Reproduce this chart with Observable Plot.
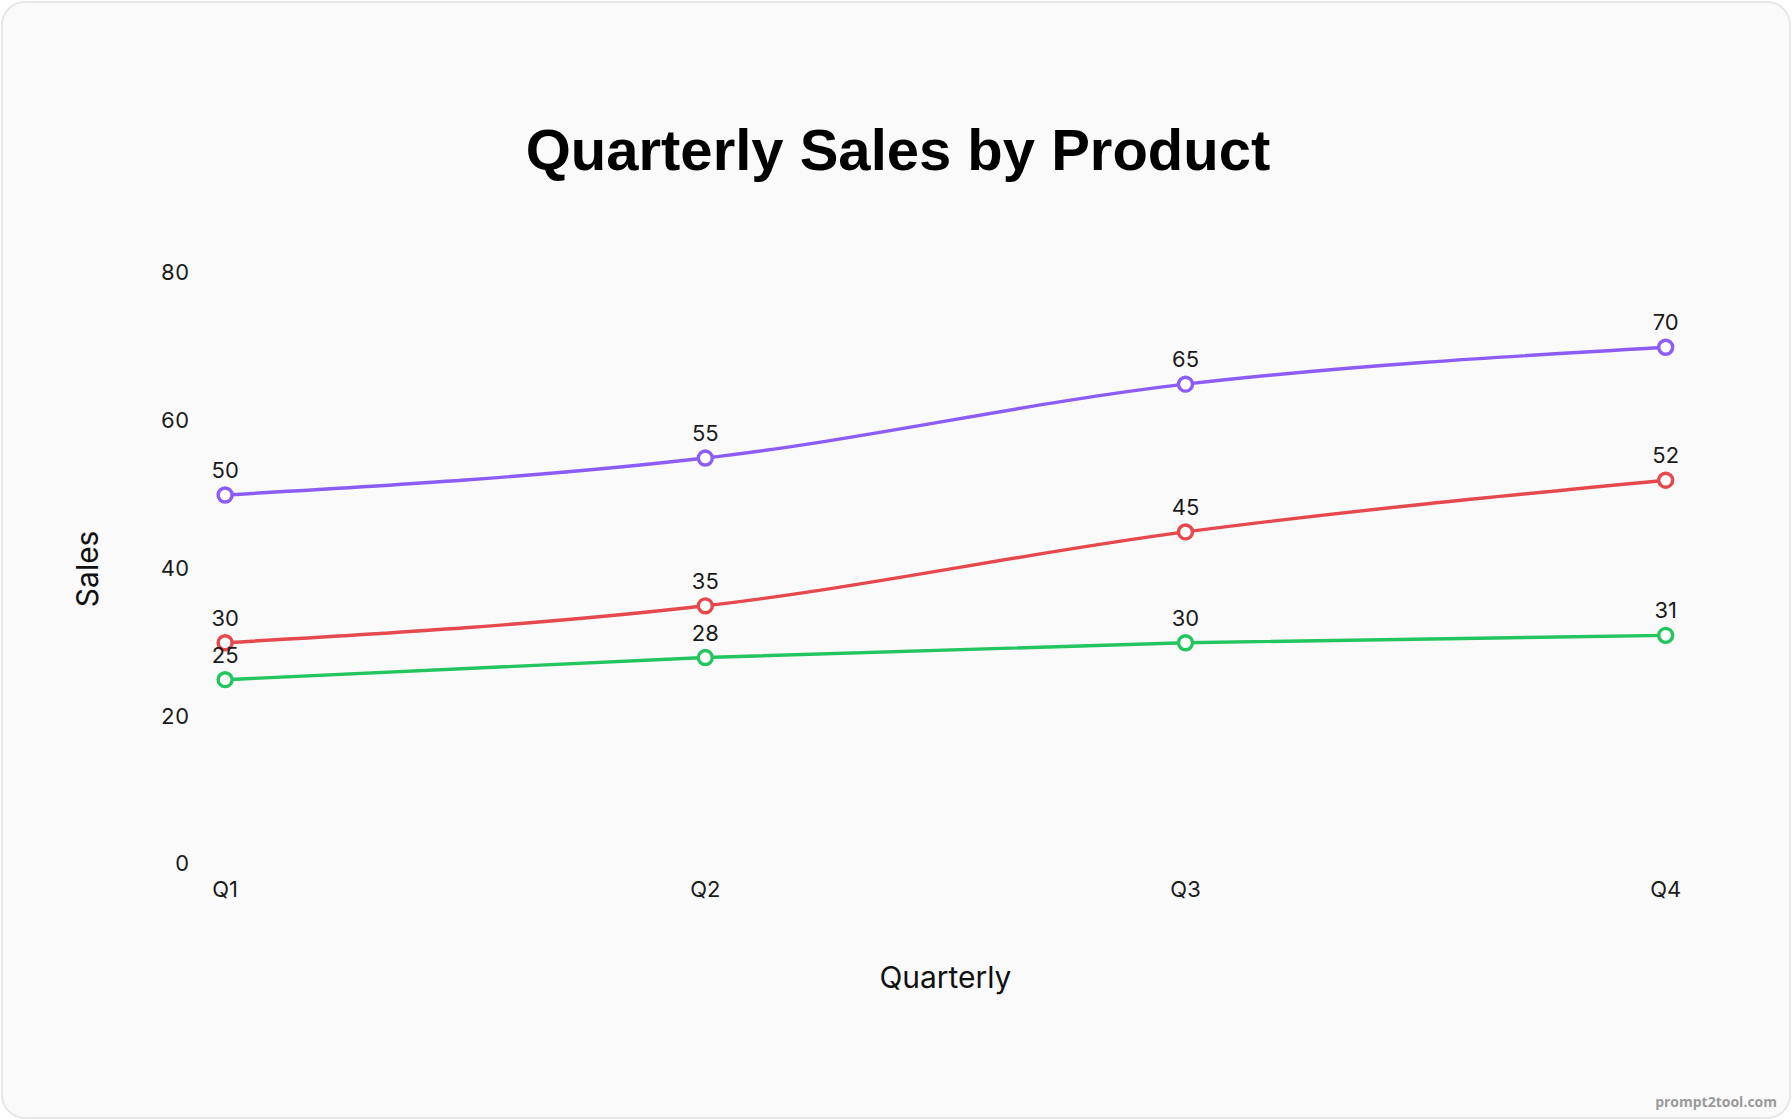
<!DOCTYPE html>
<html>
<head>
<meta charset="utf-8">
<script src="https://cdn.jsdelivr.net/npm/d3@7"></script>
<script src="https://cdn.jsdelivr.net/npm/@observablehq/plot@0.6"></script>
<style>
  html, body { margin: 0; padding: 0; background: #ffffff; }
  body { width: 1792px; height: 1120px; overflow: hidden; font-family: Inter, "Noto Sans", sans-serif; }
  #card {
    position: absolute; left: 1px; top: 1px; width: 1786px; height: 1114px;
    background: #fafafa; border: 2px solid #e6e6e6; border-radius: 24px; overflow: hidden;
  }
  #title {
    position: absolute; left: 0; top: 112px; width: 1790px; text-align: center;
    font-family: "Liberation Sans", Arial, sans-serif; font-weight: 700; font-size: 58px; color: #000; line-height: 70px;
  }
  #chart { position: absolute; left: -3px; top: 192px; }
  #wm {
    position: absolute; right: 12px; bottom: 6px; font-family: "Open Sans", sans-serif;
    font-weight: 700; font-size: 14px; color: #9a9a9a;
  }
</style>
</head>
<body>
<div id="card">
  <div id="title">Quarterly Sales by Product</div>
  <div id="chart"></div>
  <div id="wm">prompt2tool.com</div>
</div>
<script>
const quarters = ["Q1", "Q2", "Q3", "Q4"];
const products = ["Product A", "Product B", "Product C"];
const productA = [50, 55, 65, 70];
const productB = [30, 35, 45, 52];
const productC = [25, 28, 30, 31];
const colors = ["#8b5cf6", "#e5484d", "#22c55e"];
const yTicks = [0, 20, 40, 60, 80];

const series = [productA, productB, productC];
const data = [];
series.forEach((vals, i) => vals.forEach((v, j) => data.push({product: products[i], quarter: quarters[j], sales: v})));

const chartW = 1792, mTop = 78, plotH = 592, mBottom = 160;
const chart = Plot.plot({
  width: chartW,
  height: mTop + plotH + mBottom,
  marginLeft: 225,
  marginRight: 124,
  marginTop: mTop,
  marginBottom: mBottom,
  style: {background: "transparent", fontFamily: "Inter, sans-serif", fontSize: "22px", color: "#1a1a1a", overflow: "visible"},
  x: {type: "point", domain: quarters, padding: 0, label: "Quarterly"},
  y: {domain: [0, 80], ticks: yTicks, label: "Sales"},
  color: {domain: products, range: colors},
  marks: [
    Plot.axisX({tickSize: 0, tickPadding: 17, fontSize: 22, label: null}),
    Plot.axisY({ticks: yTicks, tickSize: 0, tickPadding: 36, fontSize: 22, label: null}),
    Plot.text(["Quarterly"], {frameAnchor: "bottom", dy: 124, fontSize: 30, fill: "#111"}),
    Plot.text(["Sales"], {frameAnchor: "left", textAnchor: "middle", dx: -137, rotate: -90, fontSize: 30, fill: "#111"}),
    Plot.line(data, {x: "quarter", y: "sales", z: "product", stroke: "product", strokeWidth: 3.4, curve: "monotone-x"}),
    Plot.dot(data, {x: "quarter", y: "sales", stroke: "product", fill: "white", r: 7, strokeWidth: 3.4}),
    Plot.text(data, {x: "quarter", y: "sales", text: d => String(d.sales), dy: -24, fontSize: 22, fill: "#1a1a1a"})
  ]
});
document.getElementById("chart").appendChild(chart);
</script>
</body>
</html>
